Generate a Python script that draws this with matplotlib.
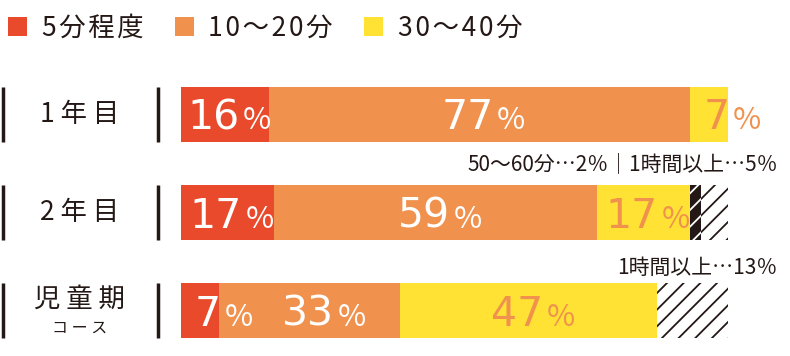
"""Study time per day by year group."""

import matplotlib
matplotlib.use('Agg')
import matplotlib.pyplot as plt
import numpy as np

plt.rcParams['font.family'] = ['Noto Sans CJK JP', 'DejaVu Sans']
plt.rcParams['hatch.linewidth'] = 1.3

# data
groups = ['1 年 目', '2 年 目', '児 童 期']
group_sub = ['', '', 'コ ー ス']
categories = ['5分程度', '10〜20分', '30〜40分', '50〜60分', '1時間以上']
five_min = [16, 17, 7]
ten_twenty = [77, 59, 33]
thirty_forty = [7, 17, 47]
fifty_sixty = [0, 2, 0]
over_hour = [0, 5, 13]
notes = ['', '50〜60分…2％｜1時間以上…5％', '1時間以上…13％']

# style
red = '#E84A2B'
orange = '#F0914E'
yellow = '#FFE234'
dark = '#231815'
HS = '\u200a'  # hair space, used as tracking


def spaced(s):
    return HS.join(s)


series = [five_min, ten_twenty, thirty_forty, fifty_sixty, over_hour]
face = [red, orange, yellow, dark, 'white']
edge = [None, None, None, 'white', dark]
hatch = [None, None, None, '//', '//']
label_color = ['white', 'white', orange, None, None]

fig = plt.figure(figsize=(7.9, 3.56), dpi=100)
ax = fig.add_axes([0, 0, 1, 1])
ax.set_xlim(-33.09, 111.33)
ax.set_ylim(2.464, -1.168)
ax.axis('off')

rows = np.arange(len(groups))
bar_h = 0.561
dy = -10.8  # baseline offset (points) to center digits in bar
left = np.zeros(len(groups))
handles = []
for i, vals in enumerate(series):
    vals = np.array(vals, dtype=float)
    bars = ax.barh(rows, vals, left=left, height=bar_h, color=face[i],
                   edgecolor=edge[i] if edge[i] else face[i],
                   hatch=hatch[i], linewidth=0)
    handles.append(bars)
    if label_color[i]:
        for r, v in enumerate(vals):
            if v <= 0:
                continue
            if v < 10:
                x, ha, dx = left[r], 'left', 10
            else:
                x, ha, dx = left[r] + v / 2, 'right', 10.5
            if v == 33:
                dx += 7
            t = ax.annotate('%d' % v, xy=(x, r), xytext=(dx, dy),
                            textcoords='offset points', ha=ha, va='baseline',
                            fontsize=29.5, family='DejaVu Sans',
                            color=label_color[i])
            ax.annotate('%', xy=(1, r), xycoords=(t, 'data'), xytext=(2.5, dy),
                        textcoords='offset points', ha='left', va='baseline',
                        fontsize=22, color=label_color[i])
    left += vals

# row labels with side rules
for x in [-32.5, -4.2]:
    ax.vlines(np.full(len(rows), x), rows - bar_h / 2, rows + bar_h / 2,
              color=dark, lw=2.5)
for r, g in enumerate(groups):
    if group_sub[r]:
        ax.text(-18.6, r - 0.11, g, ha='center', va='center', fontsize=19, color=dark)
        ax.text(-18.6, r + 0.18, group_sub[r], ha='center', va='center',
                fontsize=11.5, color=dark)
    else:
        ax.text(-18.6, r, g, ha='center', va='center', fontsize=19, color=dark)
    if notes[r]:
        ax.text(109.1, r - 0.49 if r == 1 else r - 0.43, notes[r], ha='right',
                va='center', fontsize=15, color=dark)

ax.legend(handles=handles[:3], labels=[spaced(c) for c in categories[:3]],
          loc='center left', bbox_to_anchor=(8 / 790, 1 - 28 / 356), ncol=3,
          frameon=False, fontsize=19, handlelength=0.72, handleheight=0.72,
          handletextpad=0.55, columnspacing=1.2, borderaxespad=0, borderpad=0,
          labelcolor=dark)

plt.savefig('out.png', dpi=100)
